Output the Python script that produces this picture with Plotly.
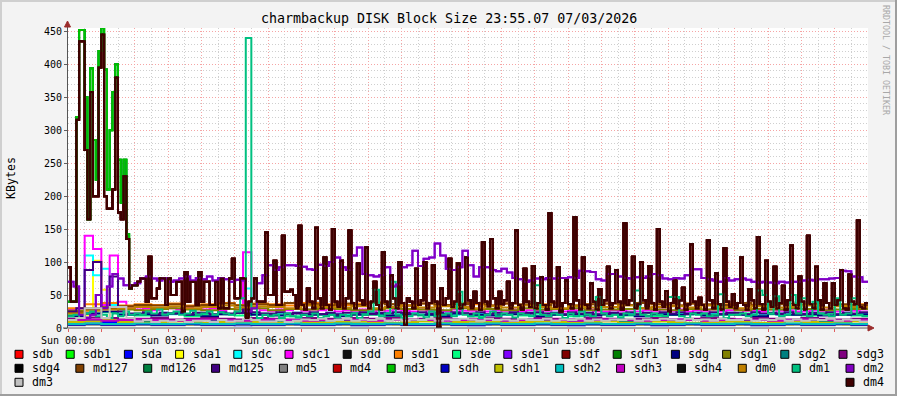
import numpy as np
import plotly.graph_objects as go

TITLE = "charmbackup DISK Block Size 23:55.07 07/03/2026"
Y_TITLE = "KBytes"
WATERMARK = "RRDTOOL / TOBI OETIKER"
X_TICK_HOURS = [0, 3, 6, 9, 12, 15, 18, 21]
X_TICK_LABELS = ["Sun 00:00", "Sun 03:00", "Sun 06:00", "Sun 09:00",
                 "Sun 12:00", "Sun 15:00", "Sun 18:00", "Sun 21:00"]
Y_TICKS = [0, 50, 100, 150, 200, 250, 300, 350, 400, 450]

NAMES = ["sdb", "sdb1", "sda", "sda1", "sdc", "sdc1", "sdd", "sdd1", "sde", "sde1",
         "sdf", "sdf1", "sdg", "sdg1", "sdg2", "sdg3", "sdg4", "md127", "md126", "md125",
         "md5", "md4", "md3", "sdh", "sdh1", "sdh2", "sdh3", "sdh4", "dm0", "dm1",
         "dm2", "dm3", "dm4"]

# 5-minute samples (spiky array members)
DM4 = [92, 40, 40, 316, 435, 435, 270, 165, 358, 200, 200, 395,
       445, 200, 181, 181, 210, 380, 175, 165, 230, 135, 60, 65,
       65, 70, 75, 75, 40, 108, 45, 45, 60, 75, 75, 35,
       75, 50, 50, 70, 70, 25, 85, 40, 70, 70, 35, 85,
       40, 70, 70, 35, 35, 70, 30, 75, 30, 30, 75, 105,
       45, 45, 75, 75, 15, 40, 45, 75, 40, 40, 40, 145,
       50, 50, 102, 35, 35, 140, 55, 55, 58, 50, 30, 155,
       35, 28, 60, 40, 30, 152, 45, 30, 107, 35, 28, 150,
       40, 32, 102, 30, 45, 148, 38, 30, 98, 42, 35, 122,
       30, 40, 70, 35, 28, 115, 40, 32, 80, 45, 30, 100,
       38, 5, 45, 40, 30, 90, 35, 42, 100, 30, 38, 95,
       40, 0, 60, 35, 45, 105, 32, 40, 98, 30, 36, 107,
       42, 30, 55, 38, 28, 130, 40, 33, 135, 45, 30, 55,
       36, 42, 70, 30, 38, 148, 35, 28, 90, 40, 32, 94,
       30, 38, 77, 35, 28, 174, 40, 32, 92, 25, 38, 72,
       36, 30, 168, 42, 28, 107, 35, 30, 68, 40, 28, 59,
       35, 42, 93, 30, 38, 88, 40, 28, 159, 35, 42, 108,
       30, 36, 100, 42, 30, 94, 38, 28, 150, 40, 32, 56,
       25, 38, 72, 30, 42, 61, 28, 36, 127, 40, 30, 46,
       35, 28, 133, 42, 30, 83, 36, 28, 121, 40, 32, 51,
       30, 38, 107, 35, 28, 59, 42, 30, 138, 36, 28, 102,
       40, 32, 93, 30, 38, 64, 28, 42, 125, 35, 30, 78,
       40, 28, 140, 36, 30, 93, 42, 28, 68, 38, 30, 68,
       35, 42, 88, 30, 28, 81, 40, 36, 163, 32, 30, 38]

# 5-minute samples of the green array during the early burst
GRPB = [40, 40, 40, 320, 452, 452, 350, 165, 394, 285, 225, 420,
        455, 392, 210, 300, 358, 400, 255, 190, 255, 142, 60, 65, 65]

# 10-minute samples
DM2 = [70, 63, 20, 15, 20, 50, 30, 63, 82, 75, 65, 65,
       68, 75, 78, 75, 72, 75, 70, 72, 75, 78, 72, 76,
       74, 78, 72, 76, 74, 70, 73, 72, 25, 30, 68, 80,
       95, 88, 92, 95, 95, 94, 93, 89, 88, 96, 94, 100,
       107, 92, 88, 110, 122, 82, 80, 78, 80, 92, 63, 66,
       92, 95, 117, 94, 105, 107, 128, 110, 90, 88, 92, 117,
       95, 78, 92, 92, 88, 86, 90, 84, 76, 74, 70, 72,
       75, 74, 76, 75, 76, 76, 77, 76, 87, 86, 85, 74,
       72, 82, 82, 78, 76, 75, 77, 76, 78, 82, 80, 75,
       74, 76, 75, 80, 89, 89, 76, 74, 72, 70, 76, 72,
       74, 75, 73, 70, 69, 70, 69, 68, 70, 69, 70, 70,
       72, 73, 72, 74, 74, 75, 76, 87, 86, 78, 77, 70]

DM1 = [18, 20, 15, 22, 25, 18, 20, 15, 22, 18, 25, 20,
       22, 20, 25, 22, 28, 20, 22, 25, 20, 22, 26, 20,
       22, 25, 20, 24, 22, 20, 25, 45, 440, 30, 15, 20,
       18, 20, 15, 22, 18, 16, 20, 18, 22, 15, 18, 20,
       16, 20, 18, 22, 15, 20, 25, 58, 18, 22, 70, 20,
       15, 18, 22, 20, 16, 25, 18, 20, 22, 18, 55, 20,
       18, 22, 15, 20, 25, 18, 22, 20, 16, 22, 20, 18,
       65, 20, 18, 22, 20, 15, 22, 18, 25, 20, 18, 47,
       22, 18, 20, 16, 22, 20, 57, 20, 18, 22, 20, 18,
       47, 47, 18, 15, 22, 20, 22, 18, 20, 51, 15, 20,
       20, 22, 18, 20, 57, 50, 22, 48, 18, 20, 50, 22,
       45, 18, 40, 22, 20, 18, 45, 20, 22, 45, 20, 18]

# 15-minute samples
SDC1 = [28, 30, 140, 120, 35, 110, 40, 30, 28, 30, 27, 29, 30, 28, 31, 29,
        28, 30, 27, 29, 28, 115, 30, 27, 26, 28, 27, 29, 26, 28, 27, 29,
        25, 27, 26, 28, 25, 27, 26, 28, 27, 25, 28, 26, 27, 25, 28, 26,
        26, 28, 25, 27, 26, 28, 25, 27, 27, 26, 28, 25, 27, 26, 28, 25,
        25, 27, 26, 28, 25, 27, 26, 28, 26, 28, 25, 27, 26, 28, 25, 27,
        28, 26, 27, 25, 28, 26, 27, 25, 25, 27, 26, 28, 25, 27, 26, 28]
SDC = [20, 22, 110, 80, 90, 35, 22, 20, 21, 22, 20, 23, 21, 22, 20, 23,
       21, 20, 22, 21, 23, 60, 22, 21, 20, 22, 21, 23, 20, 22, 21, 23,
       22, 20, 23, 21, 22, 20, 23, 21, 21, 23, 20, 22, 21, 23, 20, 22,
       20, 22, 21, 23, 20, 22, 21, 23, 22, 21, 23, 20, 22, 21, 23, 20,
       21, 23, 20, 22, 21, 23, 20, 22, 20, 22, 21, 23, 20, 22, 21, 23,
       22, 20, 23, 21, 22, 20, 23, 21, 21, 23, 20, 22, 21, 23, 20, 22]
SDA1 = [8, 10, 20, 102, 58, 12, 8, 7, 6, 7, 5, 6, 7, 6, 5, 6,
        7, 6, 5, 6, 7, 6, 5, 6, 6, 7, 5, 6, 7, 6, 5, 6,
        6, 5, 7, 6, 5, 6, 7, 5, 6, 7, 5, 6, 6, 5, 7, 6,
        5, 6, 7, 5, 6, 7, 5, 6, 7, 6, 5, 6, 7, 5, 6, 7,
        6, 5, 7, 6, 5, 6, 7, 5, 6, 7, 5, 6, 6, 5, 7, 6,
        5, 6, 7, 5, 6, 7, 5, 6, 7, 6, 5, 6, 7, 5, 6, 7]
MD125 = [25, 30, 88, 100, 30, 78, 25, 22, 22, 24, 21, 23, 22, 24, 21, 23,
         23, 21, 24, 22, 23, 30, 24, 22, 22, 24, 21, 23, 22, 24, 21, 23,
         21, 23, 22, 24, 21, 23, 22, 24, 23, 21, 24, 22, 23, 21, 24, 22,
         22, 24, 21, 23, 22, 24, 21, 23, 24, 22, 23, 21, 24, 22, 23, 21,
         21, 23, 22, 24, 21, 23, 22, 24, 22, 24, 21, 23, 22, 24, 21, 23,
         23, 21, 24, 22, 23, 21, 24, 22, 21, 23, 22, 24, 21, 23, 22, 24]
DM3 = [12, 15, 30, 30, 15, 32, 32, 15, 10, 12, 9, 11, 10, 12, 9, 11,
       11, 9, 12, 10, 11, 14, 12, 10, 10, 12, 9, 11, 13, 12, 14, 11,
       12, 14, 11, 13, 12, 14, 11, 13, 11, 13, 12, 14, 11, 13, 12, 14,
       13, 11, 14, 12, 13, 11, 14, 12, 12, 14, 11, 13, 12, 14, 11, 13,
       11, 13, 12, 14, 11, 13, 12, 14, 13, 11, 14, 12, 13, 11, 14, 12,
       12, 14, 11, 13, 12, 14, 11, 13, 11, 13, 12, 14, 11, 13, 12, 10]

# 30-minute samples
SDA = [8, 10, 9, 6, 5, 6, 5, 5, 6, 5, 4, 5, 6, 5, 5, 6, 5, 4, 5, 6, 5, 5, 6, 5,
       4, 5, 6, 5, 5, 6, 4, 5, 6, 5, 5, 4, 6, 5, 5, 6, 5, 4, 5, 6, 5, 5, 6, 5]
SDD1 = [30, 36, 38, 34, 36, 35, 37, 34, 36, 38, 35, 37, 36, 34, 38, 36, 35, 37, 39, 36, 34, 37, 35, 38,
        36, 34, 37, 35, 36, 38, 34, 36, 37, 35, 38, 36, 34, 37, 35, 36, 38, 35, 37, 34, 36, 38, 35, 36]
SDE = [20, 22, 24, 21, 19, 20, 22, 18, 20, 21, 19, 22, 20, 18, 21, 20, 19, 22, 20, 18, 21, 19, 20, 22,
       18, 20, 21, 19, 22, 20, 18, 21, 20, 19, 22, 18, 20, 21, 19, 20, 22, 18, 21, 20, 19, 22, 20, 19]
SDG = [18, 22, 25, 20, 21, 19, 22, 20, 18, 21, 23, 20, 19, 22, 20, 21, 18, 20, 22, 19, 21, 20, 18, 22,
       20, 19, 21, 22, 18, 20, 21, 19, 22, 20, 18, 21, 20, 22, 19, 21, 20, 18, 22, 20, 21, 19, 20, 21]
SDG1 = [26, 30, 32, 28, 27, 29, 30, 28, 27, 29, 28, 30, 27, 29, 28, 30, 29, 27, 28, 30, 29, 28, 27, 30,
        28, 29, 27, 30, 28, 29, 30, 27, 28, 29, 30, 28, 27, 29, 28, 30, 27, 29, 28, 30, 29, 27, 28, 29]
SDG2 = [10, 12, 14, 11, 10, 12, 11, 10, 12, 11, 10, 12, 11, 12, 10, 11, 12, 10, 11, 12, 10, 11, 12, 11,
        10, 12, 11, 10, 12, 11, 10, 12, 11, 10, 12, 11, 10, 12, 11, 10, 11, 12, 10, 11, 12, 10, 11, 12]
SDG3 = [14, 16, 15, 13, 14, 15, 13, 14, 15, 14, 13, 15, 14, 13, 15, 14, 13, 15, 14, 15, 13, 14, 15, 13,
        14, 15, 14, 13, 15, 14, 13, 15, 14, 13, 14, 15, 13, 14, 15, 14, 13, 15, 14, 13, 15, 14, 13, 14]
MD127 = [24, 28, 30, 33, 35, 34, 36, 33, 35, 37, 34, 36, 35, 38, 36, 34, 37, 35, 38, 36, 34, 37, 35, 36,
         38, 34, 37, 36, 35, 38, 34, 36, 37, 35, 38, 36, 34, 37, 36, 35, 38, 34, 36, 37, 35, 38, 36, 35]
MD5 = [4, 5, 4, 4, 5, 4, 4, 5, 4, 4, 5, 4, 4, 5, 4, 4, 5, 4, 4, 5, 4, 4, 5, 4,
       4, 5, 4, 4, 5, 4, 4, 5, 4, 4, 5, 4, 4, 5, 4, 4, 5, 4, 4, 5, 4, 4, 5, 4]
SDH = [5, 6, 5, 5, 6, 5, 5, 6, 5, 5, 6, 5, 5, 6, 5, 5, 6, 5, 5, 6, 5, 5, 6, 5,
       5, 6, 5, 5, 6, 5, 5, 6, 5, 5, 6, 5, 5, 6, 5, 5, 6, 5, 5, 6, 5, 5, 6, 5]
SDH1 = [9, 10, 12, 9, 8, 9, 10, 9, 8, 9, 10, 9, 8, 10, 9, 8, 9, 10, 9, 8, 9, 10, 8, 9,
        10, 9, 8, 9, 10, 9, 8, 9, 10, 8, 9, 10, 9, 8, 9, 10, 9, 8, 9, 10, 9, 8, 9, 10]
SDH2 = [6, 7, 6, 6, 7, 6, 6, 7, 6, 6, 7, 6, 6, 7, 6, 6, 7, 6, 6, 7, 6, 6, 7, 6,
        6, 7, 6, 6, 7, 6, 6, 7, 6, 6, 7, 6, 6, 7, 6, 6, 7, 6, 6, 7, 6, 6, 7, 6]
SDH3 = [12, 13, 11, 12, 13, 12, 11, 12, 13, 12, 11, 12, 13, 12, 11, 12, 13, 12, 11, 12, 13, 12, 11, 12,
        13, 12, 11, 12, 13, 12, 11, 12, 13, 12, 11, 12, 13, 12, 11, 12, 13, 12, 11, 12, 13, 12, 11, 12]
DM0 = [22, 26, 28, 30, 32, 31, 33, 30, 32, 34, 31, 33, 32, 30, 34, 32, 31, 33, 30, 32, 34, 31, 33, 32,
       30, 33, 31, 34, 32, 30, 33, 31, 32, 34, 30, 32, 33, 31, 34, 32, 30, 33, 31, 32, 34, 31, 33, 32]

SOURCE = {
    "sdb": (DM4, 5), "sdb1": (GRPB, 5), "sda": (SDA, 30), "sda1": (SDA1, 15),
    "sdc": (SDC, 15), "sdc1": (SDC1, 15), "sdd": (DM4, 5), "sdd1": (SDD1, 30),
    "sde": (SDE, 30), "sde1": (DM2, 10), "sdf": (DM4, 5), "sdf1": (GRPB, 5),
    "sdg": (SDG, 30), "sdg1": (SDG1, 30), "sdg2": (SDG2, 30), "sdg3": (SDG3, 30),
    "sdg4": (DM4, 5), "md127": (MD127, 30), "md126": (GRPB, 5), "md125": (MD125, 15),
    "md5": (MD5, 30), "md4": (DM4, 5), "md3": (GRPB, 5), "sdh": (SDH, 30),
    "sdh1": (SDH1, 30), "sdh2": (SDH2, 30), "sdh3": (SDH3, 30), "sdh4": (DM4, 5),
    "dm0": (DM0, 30), "dm1": (DM1, 10), "dm2": (DM2, 10), "dm3": (DM3, 15), "dm4": (DM4, 5),
}

COLORS = {
    "sdb": "#FF0000", "sdb1": "#00FF00", "sda": "#0000FF", "sda1": "#FFFF00",
    "sdc": "#00FFFF", "sdc1": "#FF00FF", "sdd": "#111111", "sdd1": "#FF8000",
    "sde": "#00FF80", "sde1": "#8000FF", "sdf": "#800000", "sdf1": "#008000",
    "sdg": "#000080", "sdg1": "#808000", "sdg2": "#008080", "sdg3": "#800080",
    "sdg4": "#000000", "md127": "#804000", "md126": "#008040", "md125": "#400080",
    "md5": "#808080", "md4": "#C00000", "md3": "#00C000", "sdh": "#0000C0",
    "sdh1": "#C0C000", "sdh2": "#00C0C0", "sdh3": "#C000C0", "sdh4": "#101010",
    "dm0": "#C08000", "dm1": "#00C080", "dm2": "#8000C0", "dm3": "#C0C0C0",
    "dm4": "#400000",
}

W, H = 897, 396
L, R, T, B = 68, 29, 28, 68
PW, PH = W - L - R, H - T - B
MONO = "DejaVu Sans Mono"


def px(x):
    return (x - L) / PW


def py(y):
    return (H - B - y) / PH


fig = go.Figure()
for name in NAMES:
    vals, step = SOURCE[name]
    x = np.arange(len(vals) + 1) * step / 60.0
    y = list(vals) + [vals[-1]]
    fig.add_trace(go.Scatter(x=x, y=y, mode="lines", name=name,
                             line=dict(color=COLORS[name], width=2, shape="hv"),
                             hoverinfo="skip", showlegend=False))

MAJ = "#F5A5A5"
MIN = "#CFCFCF"
DASH = "1px,2px"
hours = list(range(0, 24))
ticktext = [X_TICK_LABELS[X_TICK_HOURS.index(h)] if h in X_TICK_HOURS else "" for h in hours]

fig.update_xaxes(range=[0, 24], tickmode="array", tickvals=hours, ticktext=ticktext,
                 showgrid=True, gridcolor=MAJ, griddash=DASH, gridwidth=1,
                 minor=dict(dtick=0.5, tick0=0, showgrid=True, gridcolor=MIN, griddash=DASH),
                 ticks="outside", ticklen=3, tickcolor="#E06060", showline=False, zeroline=False,
                 tickfont=dict(family=MONO, size=10, color="#000000"))
fig.update_yaxes(range=[0, 455], tickmode="array", tickvals=Y_TICKS,
                 showgrid=True, gridcolor=MAJ, griddash=DASH, gridwidth=1,
                 minor=dict(dtick=10, tick0=0, showgrid=True, gridcolor=MIN, griddash=DASH),
                 ticks="outside", ticklen=3, tickcolor="#606060", showline=False, zeroline=False,
                 tickfont=dict(family=MONO, size=10, color="#000000"))

shapes = []
annotations = []
AX = "#555555"
ARROW = "#9B2D2D"
shapes.append(dict(type="line", xref="paper", yref="paper", x0=px(67.5), x1=px(67.5),
                   y0=py(328), y1=py(25), line=dict(color=AX, width=1)))
shapes.append(dict(type="line", xref="paper", yref="paper", x0=px(63), x1=px(869),
                   y0=py(328), y1=py(328), line=dict(color=AX, width=1)))
shapes.append(dict(type="path", xref="paper", yref="paper",
                   path=f"M {px(67.5)},{py(21)} L {px(64.5)},{py(27)} L {px(70.5)},{py(27)} Z",
                   fillcolor=ARROW, line=dict(color=ARROW, width=1)))
shapes.append(dict(type="path", xref="paper", yref="paper",
                   path=f"M {px(874)},{py(328)} L {px(868)},{py(325)} L {px(868)},{py(331)} Z",
                   fillcolor=ARROW, line=dict(color=ARROW, width=1)))
# frame
for x0, y0, x1, y1, c in [(0, 0, W, 2, "#CFCFCF"), (0, 0, 2, H, "#CFCFCF"),
                          (0, H - 2, W, H, "#9E9E9E"), (W - 2, 0, W, H, "#9E9E9E")]:
    shapes.append(dict(type="rect", xref="paper", yref="paper", x0=px(x0), x1=px(x1),
                       y0=py(y1), y1=py(y0), fillcolor=c, line=dict(width=0), layer="above"))

# legend (justified rows like rrdtool)
rows = [NAMES[:16], NAMES[16:31], NAMES[31:]]
LEFT, RIGHT, ADV = 15, 882, 7.0
for r, row in enumerate(rows):
    yc = 354.3 + 14 * r
    widths = [15 + ADV * len(n) for n in row]
    gap = (RIGHT - LEFT - sum(widths)) / (len(row) - 1)
    xc = LEFT
    for n, w in zip(row, widths):
        shapes.append(dict(type="rect", xref="paper", yref="paper", x0=px(xc), x1=px(xc + 8),
                           y0=py(yc + 4), y1=py(yc - 4), fillcolor=COLORS[n],
                           line=dict(color="#000000", width=1)))
        annotations.append(dict(x=px(xc + 15), y=py(yc), xref="paper", yref="paper", text=n,
                                showarrow=False, xanchor="left", yanchor="middle",
                                font=dict(family=MONO, size=11.6, color="#000000")))
        xc += w + gap

annotations.append(dict(x=px(448.5), y=py(19), xref="paper", yref="paper", text=TITLE,
                        showarrow=False, xanchor="center", yanchor="middle",
                        font=dict(family=MONO, size=13.3, color="#000000")))
annotations.append(dict(x=px(11), y=py(178), xref="paper", yref="paper", text=Y_TITLE,
                        showarrow=False, xanchor="center", yanchor="middle", textangle=-90,
                        font=dict(family=MONO, size=11.6, color="#000000")))
annotations.append(dict(x=px(886), y=py(60), xref="paper", yref="paper", text=WATERMARK,
                        showarrow=False, xanchor="center", yanchor="middle", textangle=90,
                        font=dict(family=MONO, size=8.3, color="#A8A8A8")))

fig.update_layout(width=W, height=H, margin=dict(l=L, r=R, t=T, b=B, autoexpand=False),
                  paper_bgcolor="#F3F3F3", plot_bgcolor="#FFFFFF",
                  showlegend=False, hovermode=False,
                  shapes=shapes, annotations=annotations)

fig.write_html("out.html")
